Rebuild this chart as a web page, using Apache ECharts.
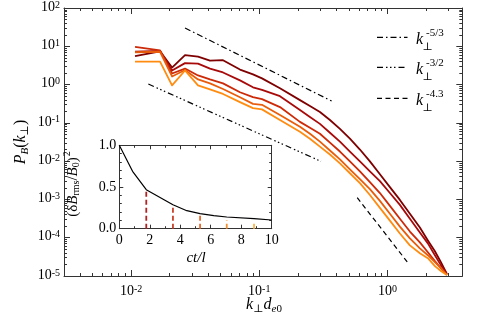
<!DOCTYPE html>
<html><head><meta charset="utf-8">
<script src="https://cdn.jsdelivr.net/npm/echarts@6/dist/echarts.min.js"></script>
<style>html,body{margin:0;padding:0;background:#fff}#c{width:477px;height:318px}</style>
</head><body><div id="c"></div>
<script>
// ---------- data ----------
const kPerp = [0.01074,0.01683,0.02088,0.02636,0.03328,0.04127,0.05214,0.07071,0.08931,0.1050,0.1450,0.2076,0.2484,0.2972,0.3557,0.4256,0.5092,0.6093,0.7291,0.8725,1.044,1.249,1.495,1.788,2.064,2.342,2.608,2.904];
const spec1 = [5.5,7.4,2.78,5.91,5.35,4.22,4.34,2.47,1.84,1.45,0.799,0.392,0.2743,0.192,0.119,0.0699,0.0386,0.0201,0.00985,0.00455,0.002102,0.000971,0.000423,0.000184,0.0000850,0.0000442,0.0000230,0.0000113];
const spec2 = [7.2,7.6,2.33,3.63,3.53,2.62,2.07,1.285,0.848,0.731,0.497,0.216,0.1427,0.0941,0.0551,0.0323,0.01784,0.00985,0.00543,0.00300,0.00147,0.000721,0.000314,0.0001367,0.0000711,0.0000349,0.0000192,0.0000113];
const spec3 = [9.68,7.8,1.95,2.62,1.73,1.36,1.075,0.630,0.468,0.416,0.258,0.106,0.0742,0.0520,0.03045,0.01784,0.00985,0.00543,0.002828,0.00147,0.000680,0.000314,0.0001451,0.0000755,0.0000417,0.0000244,0.0000161,0.0000106];
const spec4 = [6.99,7.2,1.63,2.40,1.36,1.075,0.766,0.468,0.314,0.296,0.161,0.0787,0.0520,0.0323,0.01893,0.01109,0.00612,0.00338,0.001866,0.000915,0.000423,0.000195,0.0000957,0.0000528,0.0000349,0.0000230,0.0000161,0.0000106];
const spec5 = [3.97,3.97,0.955,2.33,0.955,0.753,0.569,0.348,0.243,0.225,0.119,0.0585,0.0386,0.0240,0.01492,0.00874,0.00483,0.00267,0.001306,0.000603,0.000279,0.0001288,0.0000632,0.0000393,0.0000292,0.0000181,0.0000135,0.0000106];
const curveColors = ['#7f0000','#a80a0a','#cc2a08','#e85d0c','#ff8c10'];

const refK53 = [0.02636,0.3666], refP53 = [29.95,0.372];
const refK32 = [0.01364,0.3028], refP32 = [1.031,0.00986];
const refK43 = [0.5803,1.424],  refP43 = [0.001112,0.00002345];
const legendLabels = ['-5/3','-3/2','-4.3'];

const tInset = [0,0.87,1.77,3.52,4.43,5.3,6.2,7.05,8.84,10];
const eInset = [1.0,0.688,0.468,0.288,0.216,0.18,0.157,0.14,0.12,0.104];
const markTimes = [1.77,3.52,5.3,7.05,8.84];
const markTops = [0.47,0.28,0.18,0.10,0.09];
const markColors = ['#b22222','#c8402a','#e8682a','#f59030','#ffb347'];

const xRange = [0.003,3.83], yRange = [1e-5,1e2];
const xMajorExp = [-2,-1,0];
const yMajorExp = [-5,-4,-3,-2,-1,0,1,2];
const insetXTicks = [0,2,4,6,8,10];
const insetYTicks = [0.0,0.5,1.0];

// ---------- helpers ----------
const FF = "'Liberation Serif','DejaVu Serif',serif";
const AX = '#333';
const lg = v => Math.log10(v);
const pairs = (xs, ys) => xs.map((x,i)=>[lg(x), lg(ys[i])]);
function minorLogs(lo, hi){ const out=[]; for(let e=Math.floor(lo); e<=Math.ceil(hi); e++){ for(let m=2;m<=9;m++){ const v=e+Math.log10(m); if(v>lo && v<hi) out.push(v);} } return out; }
const LX = [lg(xRange[0]), lg(xRange[1])], LY = [lg(yRange[0]), lg(yRange[1])];
const powRich = {
  b:{fontFamily:FF,fontSize:14,lineHeight:16,verticalAlign:'top',color:'#000'},
  s:{fontFamily:FF,fontSize:10,lineHeight:6,verticalAlign:'top',color:'#000'}
};
function mainAxis(pos, lo, hi, ticks, len, showLine, labels, margin){
  return {
    type:'value', gridIndex:0, position:pos, min:lo, max:hi,
    axisLine:{show:showLine,onZero:false,lineStyle:{color:AX,width:1}},
    axisTick:{show:true,inside:true,length:len,customValues:ticks,lineStyle:{color:AX,width:1}},
    axisLabel: labels ? {show:true,customValues:labels,margin:margin,
      formatter:v=>'{b|10}{s|'+Math.round(v)+'}', rich:powRich} : {show:false},
    splitLine:{show:false}
  };
}
const xMinor = minorLogs(LX[0],LX[1]), yMinor = minorLogs(LY[0],LY[1]);

const xAxes = [
  mainAxis('bottom',LX[0],LX[1],xMajorExp,6,true,xMajorExp,8),
  mainAxis('bottom',LX[0],LX[1],xMinor,3,false,null),
  mainAxis('top',LX[0],LX[1],xMajorExp,6,true,null),
  mainAxis('top',LX[0],LX[1],xMinor,3,false,null)
];
const yAxes = [
  mainAxis('left',LY[0],LY[1],yMajorExp,6,true,yMajorExp,4),
  mainAxis('left',LY[0],LY[1],yMinor,3,false,null),
  mainAxis('right',LY[0],LY[1],yMajorExp,6,true,null),
  mainAxis('right',LY[0],LY[1],yMinor,3,false,null)
];
function insetAxis(pos, lo, hi, interval, split, labels, fmt, margin){
  return {
    type:'value', gridIndex:1, position:pos, min:lo, max:hi, interval:interval,
    axisLine:{show:true,onZero:false,lineStyle:{color:AX,width:1}},
    axisTick:{show:true,inside:true,length:4,lineStyle:{color:AX}},
    minorTick:{show:true,splitNumber:split,length:2.5,lineStyle:{color:AX}},
    axisLabel: labels ? {show:true,margin:margin,fontFamily:FF,fontSize:14,color:'#000',formatter:fmt} : {show:false},
    splitLine:{show:false}, minorSplitLine:{show:false}
  };
}
xAxes.push(insetAxis('bottom',insetXTicks[0],insetXTicks[insetXTicks.length-1],2,2,true,v=>String(v),5));
xAxes.push(insetAxis('top',insetXTicks[0],insetXTicks[insetXTicks.length-1],2,2,false));
yAxes.push(insetAxis('left',insetYTicks[0],insetYTicks[insetYTicks.length-1],0.5,5,true,v=>v.toFixed(1),3));
yAxes.push(insetAxis('right',insetYTicks[0],insetYTicks[insetYTicks.length-1],0.5,5,false));

const series = [];
[spec1,spec2,spec3,spec4,spec5].forEach((s,i)=>series.push({
  type:'line', xAxisIndex:0, yAxisIndex:0, data:pairs(kPerp,s), symbol:'none',
  lineStyle:{color:curveColors[i],width:1.8,join:'round'}, z:3, silent:true
}));
const refDash = [[6,3,1.5,3],[6,3,1.5,2.5,1.5,2.5,1.5,3],[5,3.5]];
[[refK53,refP53],[refK32,refP32],[refK43,refP43]].forEach((r,i)=>series.push({
  type:'line', xAxisIndex:0, yAxisIndex:0, data:pairs(r[0],r[1]), symbol:'none',
  lineStyle:{color:'#000',width:1.2,type:refDash[i]}, z:3, silent:true
}));
series.push({type:'line', xAxisIndex:4, yAxisIndex:4, data:tInset.map((t,i)=>[t,eInset[i]]),
  symbol:'none', lineStyle:{color:'#000',width:1.2}, z:4, silent:true});
markTimes.forEach((t,i)=>series.push({type:'line', xAxisIndex:4, yAxisIndex:4,
  data:[[t,0],[t,markTops[i]]], symbol:'none',
  lineStyle:{color:markColors[i],width:1.8,type:[5,3]}, z:4, silent:true}));

// ---------- text / legend ----------
// all tokens top-aligned; padding-top shifts subscripts down, superscripts stay at top
const rich = (base, sub) => ({
  i:{fontFamily:FF,fontStyle:'italic',fontSize:base,padding:[3,0,0,0],verticalAlign:'top',fill:'#000'},
  n:{fontFamily:FF,fontSize:base,padding:[3,0,0,0],verticalAlign:'top',fill:'#000'},
  sb:{fontFamily:FF,fontStyle:'italic',fontSize:sub,padding:[Math.round(base*0.62),0,0,0],verticalAlign:'top',fill:'#000'},
  su:{fontFamily:FF,fontSize:sub,padding:[Math.round(base*0.62),0,0,0],verticalAlign:'top',fill:'#000'},
  sp:{fontFamily:FF,fontSize:sub,padding:[0,0,0,1],verticalAlign:'top',fill:'#000'}
});
const graphic = [];
graphic.push({type:'text', x:20, y:142, rotation:Math.PI/2, z:10,
  style:{text:'{i|P}{sb|B}{n|(}{i|k}{su|⊥}{n|)}', rich:rich(16,11), align:'center', verticalAlign:'middle'}});
graphic.push({type:'text', x:264, y:304, z:10,
  style:{text:'{i|k}{su|⊥}{i|d}{sb|e}{su|0}', rich:rich(16,11), align:'center', verticalAlign:'middle'}});
graphic.push({type:'text', x:72, y:184, rotation:Math.PI/2, z:10,
  style:{text:'{n|(δ}{i|B}{su|rms}{n|/}{i|B}{su|0}{n|)}{sp|2}', rich:rich(15,10), align:'center', verticalAlign:'middle'}});
graphic.push({type:'text', x:196, y:258, z:10,
  style:{text:'ct/l', fontFamily:FF, fontStyle:'italic', fontSize:15, fill:'#000', align:'center', verticalAlign:'middle'}});
const legY = [37.3,67.3,98.3];
legendLabels.forEach((lab,i)=>{
  graphic.push({type:'line', z:10, shape:{x1:377,y1:legY[i],x2:407.5,y2:legY[i]},
    style:{stroke:'#000',lineWidth:1.2,lineDash:refDash[i]}});
  graphic.push({type:'text', z:10, x:416, y:legY[i]+2,
    style:{text:'k',fontFamily:FF,fontStyle:'italic',fontSize:16,fill:'#000',align:'left',verticalAlign:'middle'}});
  graphic.push({type:'text', z:10, x:422.5, y:legY[i]+10,
    style:{text:'⊥',fontFamily:FF,fontSize:11,fill:'#000',align:'left',verticalAlign:'middle'}});
  graphic.push({type:'text', z:10, x:426, y:legY[i]-4.5,
    style:{text:lab,fontFamily:FF,fontSize:11,fill:'#000',align:'left',verticalAlign:'middle'}});
});

const chart = echarts.init(document.getElementById('c'), null, {renderer:'canvas'});
chart.setOption({
  animation:false,
  backgroundColor:'#fff',
  grid:[
    {left:64, top:4.7, width:398.3, height:271.3, containLabel:false},
    {left:119.3, top:145.3, width:152.4, height:83.4, containLabel:false, show:true, backgroundColor:'#fff', borderWidth:0}
  ],
  xAxis:xAxes, yAxis:yAxes, series:series, graphic:graphic
});
</script></body></html>
